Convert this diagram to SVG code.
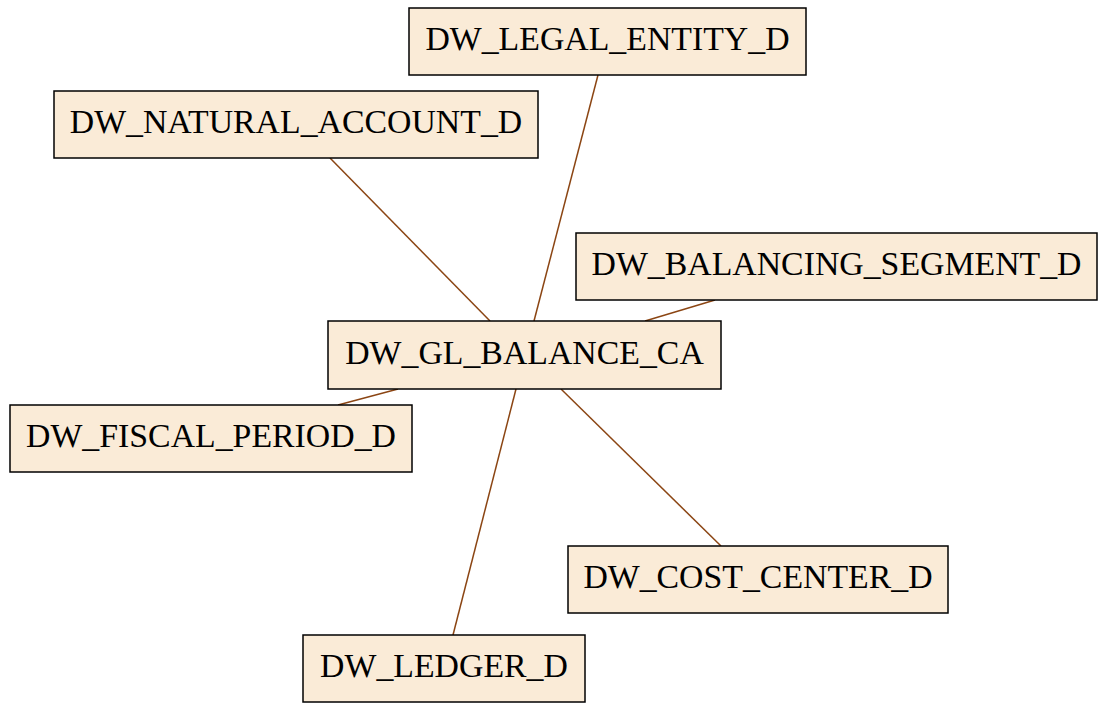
<svg xmlns="http://www.w3.org/2000/svg" width="1101" height="704" viewBox="0 0 1101 704">
<style>
.n rect{fill:#faebd7;stroke:#000;stroke-width:1.5}
.n text{font-family:"Liberation Serif","Times New Roman",serif;font-size:33.8px;fill:#000;text-anchor:middle}
#edges line{stroke:#8b4513;stroke-width:1.5}
</style>
<rect width="1101" height="704" fill="#fff"/>
<g id="edges">
<line x1="330" y1="158" x2="490" y2="321"/>
<line x1="598" y1="75" x2="534" y2="321"/>
<line x1="715" y1="300" x2="645" y2="321"/>
<line x1="398" y1="389" x2="338" y2="405"/>
<line x1="516" y1="389" x2="453" y2="635"/>
<line x1="561" y1="389" x2="721" y2="546"/>
</g>
<g id="legal_entity" class="n"><rect x="409" y="8" width="397" height="67"/><text x="607.5" y="50">DW_LEGAL_ENTITY_D</text></g>
<g id="natural_account" class="n"><rect x="54" y="91" width="484" height="67"/><text x="296" y="133">DW_NATURAL_ACCOUNT_D</text></g>
<g id="balancing_segment" class="n"><rect x="576" y="233" width="521" height="67"/><text x="836.5" y="275">DW_BALANCING_SEGMENT_D</text></g>
<g id="gl_balance" class="n"><rect x="328" y="321" width="393" height="68"/><text x="524.5" y="364">DW_GL_BALANCE_CA</text></g>
<g id="fiscal_period" class="n"><rect x="10" y="405" width="402" height="67"/><text x="211" y="447">DW_FISCAL_PERIOD_D</text></g>
<g id="cost_center" class="n"><rect x="568" y="546" width="380" height="67"/><text x="758" y="588">DW_COST_CENTER_D</text></g>
<g id="ledger" class="n"><rect x="303" y="635" width="282" height="67"/><text x="444" y="677">DW_LEDGER_D</text></g>
</svg>
